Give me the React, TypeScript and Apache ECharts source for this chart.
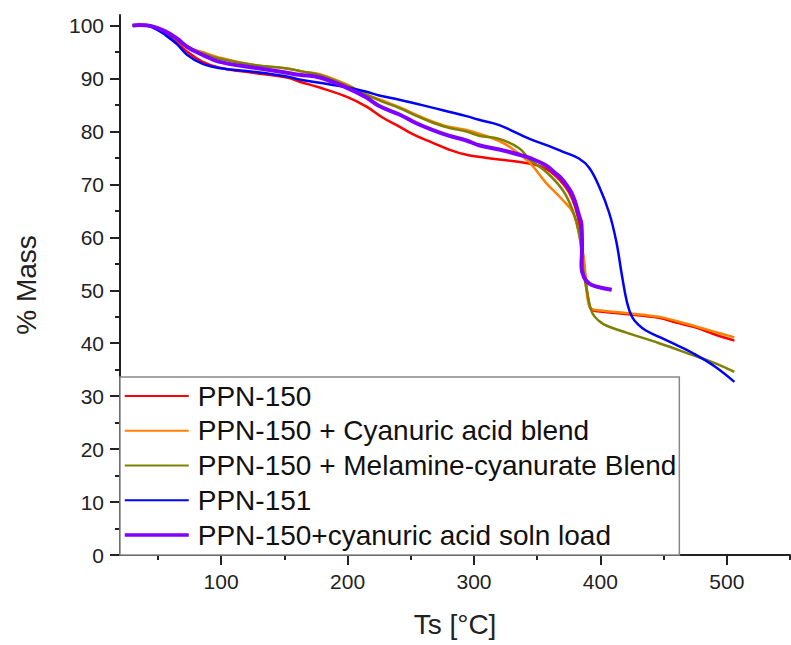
import React, { useEffect, useRef } from "react";
import * as echarts from "echarts";

const seriesNames = [
  "PPN-150",
  "PPN-150 + Cyanuric acid blend",
  "PPN-150 + Melamine-cyanurate Blend",
  "PPN-151",
  "PPN-150+cyanuric acid soln load",
];

const ppn150: [number, number][] = [
  [30, 100], [40, 100], [48, 99.6], [56, 98.5], [65, 96.8], [73, 95.1], [85, 93.2], [98, 92.1],
  [125, 91.1], [152, 90.2], [162, 89.4], [178, 88.3], [200, 86.5], [215, 84.7], [228, 82.6],
  [241, 80.9], [254, 79.2], [267, 77.9], [280, 76.6], [294, 75.6], [320, 74.7], [340, 74.1],
  [352, 73.5], [360, 72.5], [368, 70.8], [375, 68.6], [380, 65.8], [384, 61.5], [387, 55],
  [390, 49], [393, 46.3], [400, 46], [420, 45.5], [446, 44.8], [460, 43.9], [475, 43],
  [490, 41.7], [506, 40.5],
];

const cyanuricBlend: [number, number][] = [
  [30, 100], [40, 100], [48, 99.7], [56, 98.9], [65, 97.5], [75, 95.8], [85, 95], [98, 94],
  [125, 92.6], [152, 91.9], [165, 91.3], [178, 90.8], [200, 88.8], [215, 87], [228, 85.8],
  [241, 84.6], [254, 83.2], [267, 81.9], [280, 80.9], [294, 80.3], [304, 79.6], [320, 78.2],
  [330, 76.8], [344, 74.1], [357, 70.3], [370, 67.1], [378, 64.8], [383, 60.8], [387, 55.8],
  [390, 48.2], [393, 46.5], [400, 46.2], [420, 45.7], [446, 45], [460, 44.2], [475, 43.2],
  [490, 42.2], [506, 41.1],
];

const melamineBlend: [number, number][] = [
  [30, 100], [40, 100], [48, 99.7], [56, 98.8], [65, 97.3], [75, 95.6], [85, 94.8], [98, 93.8],
  [125, 92.6], [152, 91.9], [165, 91.3], [178, 90.7], [200, 88.6], [215, 86.9], [228, 85.6],
  [241, 84.4], [254, 83], [267, 81.7], [280, 80.7], [294, 80], [304, 79.2], [320, 78.6],
  [336, 76.8], [344, 74.7], [357, 72.4], [370, 69], [378, 65.2], [383, 60.9], [387, 53],
  [390, 49], [393.6, 45.7], [399, 44.2], [405, 43.3], [420.5, 42], [446.5, 40], [472.6, 37.8],
  [490, 36.3], [506, 34.6],
];

const ppn151: [number, number][] = [
  [30, 100], [40, 100], [48, 99.4], [56, 98.2], [65, 96.5], [73, 94.5], [85, 92.8], [98, 92],
  [125, 91.3], [152, 90.4], [162, 89.8], [178, 89.2], [200, 88.3], [215, 87.5], [225, 86.8],
  [241, 86], [267, 84.5], [294, 82.9], [304, 82.2], [320, 81.2], [344, 78.6], [360, 77.2],
  [370, 76.2], [383, 74.9], [391, 73.2], [399, 69.6], [407, 64.6], [412.6, 59.2], [417, 52.9],
  [421, 47.8], [425, 45], [430, 43.5], [436, 42.4], [446.5, 41.2], [460, 39.7], [472.6, 38.2],
  [490, 35.7], [506, 32.7],
];

const solnLoad: [number, number][] = [
  [30, 100], [35, 100.1], [45, 99.9], [55, 99], [65, 97.6], [73, 96], [85, 94.5], [98, 93.2],
  [125, 92.1], [152, 91.1], [162, 90.7], [178, 90.2], [200, 88.2], [215, 86.4], [225, 84.8],
  [241, 83.2], [254, 81.6], [267, 80.3], [280, 79.2], [294, 78.3], [304, 77.4], [320, 76.6],
  [336, 75.6], [344, 75], [357, 73.6], [364, 72.2], [370, 70.9], [378, 68], [383, 64.2],
  [385, 62.5], [385.5, 58], [385, 54.5], [387, 52.5], [391, 51.3], [397, 50.7], [409, 50.1],
];

const seriesData = [ppn150, cyanuricBlend, melamineBlend, ppn151, solnLoad];
const seriesColors = ["#ff0000", "#ff8000", "#808000", "#0000ff", "#8000ff"];
const seriesWidths = [2.5, 2.5, 2.5, 2.5, 4];
const legendWidths = [2, 2, 2, 2, 3.5];

const xMajorTicks = [100, 200, 300, 400, 500];
const xMinorTicks = [50, 150, 250, 350, 450, 550];
const yMajorTicks = [0, 10, 20, 30, 40, 50, 60, 70, 80, 90, 100];
const yMinorTicks = [5, 15, 25, 35, 45, 55, 65, 75, 85, 95];

const xName = "Ts [°C]";
const yName = "% Mass";

const FONT = "'Liberation Sans', Arial, sans-serif";
const INK = "#222";

export default function App() {
  const ref = useRef<HTMLDivElement>(null);
  useEffect(() => {
    if (!ref.current) return;
    const chart = echarts.init(ref.current, undefined, { renderer: "svg" });
    const xMin = 20, xMax = 550, yMin = 0, yMax = 102;
    chart.setOption({
      animation: false,
      backgroundColor: "#ffffff",
      grid: { left: 120, top: 15, right: 1, bottom: 90, containLabel: false },
      xAxis: [
        {
          type: "value", min: xMin, max: xMax, position: "bottom",
          name: xName, nameLocation: "middle", nameGap: 55,
          nameTextStyle: { fontFamily: FONT, fontSize: 28, color: INK },
          axisLine: { show: true, lineStyle: { color: INK, width: 2 } },
          axisTick: { show: true, length: 10, customValues: xMajorTicks, lineStyle: { color: INK, width: 2 } },
          axisLabel: { customValues: xMajorTicks, margin: 16, fontFamily: FONT, fontSize: 21, color: INK },
          splitLine: { show: false },
        },
        {
          type: "value", min: xMin, max: xMax, position: "bottom",
          axisLine: { show: false },
          axisTick: { show: true, length: 5, customValues: xMinorTicks, lineStyle: { color: INK, width: 2 } },
          axisLabel: { show: false },
          splitLine: { show: false },
        },
      ],
      yAxis: [
        {
          type: "value", min: yMin, max: yMax, position: "left",
          name: yName, nameLocation: "middle", nameGap: 80, nameRotate: 90,
          nameTextStyle: { fontFamily: FONT, fontSize: 28, color: INK },
          axisLine: { show: true, lineStyle: { color: INK, width: 2 } },
          axisTick: { show: true, length: 10, customValues: yMajorTicks, lineStyle: { color: INK, width: 2 } },
          axisLabel: { customValues: yMajorTicks, margin: 16, fontFamily: FONT, fontSize: 21, color: INK },
          splitLine: { show: false },
        },
        {
          type: "value", min: yMin, max: yMax, position: "left",
          axisLine: { show: false },
          axisTick: { show: true, length: 5, customValues: yMinorTicks, lineStyle: { color: INK, width: 2 } },
          axisLabel: { show: false },
          splitLine: { show: false },
        },
      ],
      legend: {
        show: true,
        orient: "vertical",
        left: 120,
        top: 377,
        padding: [5, 3, 6, 3],
        itemWidth: 64,
        itemHeight: 2,
        itemGap: 6.75,
        borderColor: "#888",
        borderWidth: 1.5,
        backgroundColor: "#ffffff",
        itemStyle: { opacity: 0 },
        textStyle: { fontFamily: FONT, fontSize: 28, lineHeight: 28, color: "#111", padding: [0, 0, 0, 4] },
        data: seriesNames.map((name, i) => ({
          name,
          lineStyle: { width: legendWidths[i], color: seriesColors[i] },
        })),
      },
      series: seriesNames.map((name, i) => ({
        name,
        type: "line",
        xAxisIndex: 0,
        yAxisIndex: 0,
        data: seriesData[i],
        smooth: 0.4,
        symbol: "none",
        showSymbol: false,
        lineStyle: { color: seriesColors[i], width: seriesWidths[i] },
        itemStyle: { color: seriesColors[i] },
        z: 2 + i,
      })),
    });
    return () => chart.dispose();
  }, []);
  return (
    <div
      ref={ref}
      style={{ position: "absolute", left: 0, top: 0, width: 791, height: 645 }}
    />
  );
}
